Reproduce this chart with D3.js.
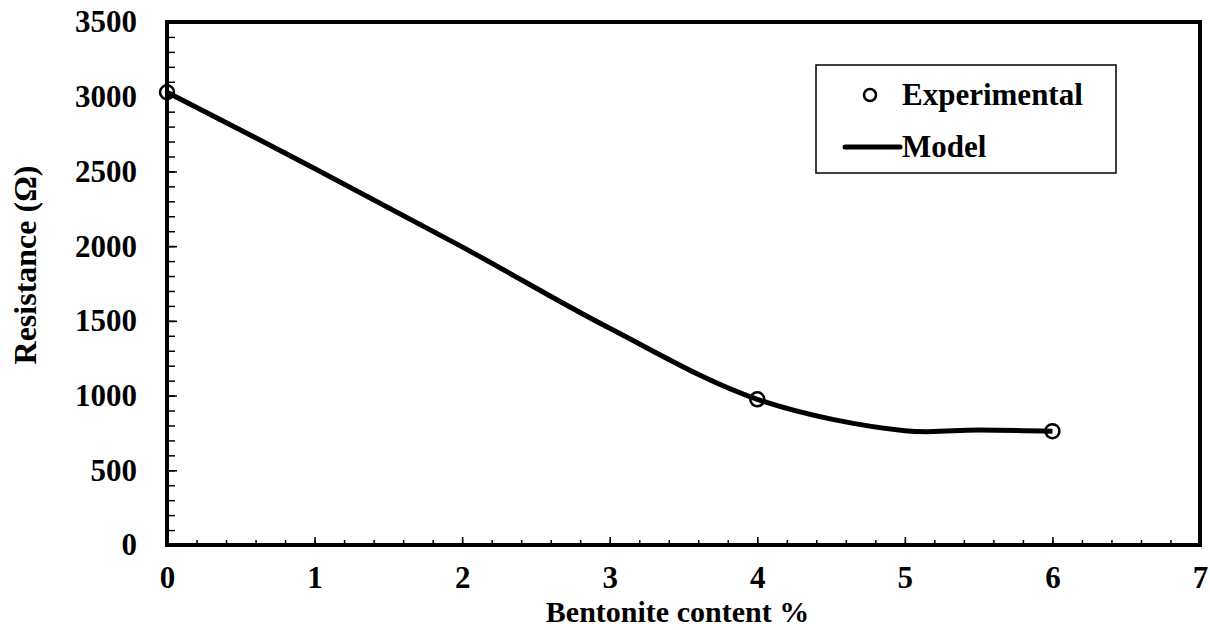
<!DOCTYPE html>
<html>
<head>
<meta charset="utf-8">
<script src="https://cdn.jsdelivr.net/npm/d3@7"></script>
<style>
  body { margin: 0; background: #fff; }
  svg text { font-family: "Liberation Serif", "DejaVu Serif", serif !important; font-weight: bold; fill: #000; }
</style>
</head>
<body>
<script>
// experimental points
var expX = [0, 4, 6];
var expY = [3030, 975, 762];
// model curve
var modelX = [0, 1, 2, 3, 4, 5, 5.5, 6];
var modelY = [3030, 2520, 1995, 1450, 975, 765, 770, 762];
var xTicks = [0, 1, 2, 3, 4, 5, 6, 7];
var yTicks = [0, 500, 1000, 1500, 2000, 2500, 3000, 3500];

var FONT = "'Liberation Serif', 'DejaVu Serif', serif";

var svg = d3.select("body").append("svg").attr("width", 1210).attr("height", 630),
    margin = {top: 22, right: 10, bottom: 85, left: 167},
    width = 1200 - margin.left,
    height = 545 - margin.top;

var x = d3.scaleLinear().domain([0, 7]).range([0, width]),
    y = d3.scaleLinear().domain([0, 3500]).range([height, 0]);

var g = svg.append("g")
    .attr("transform", "translate(" + margin.left + "," + margin.top + ")");

// minor ticks
g.append("g")
  .attr("transform", "translate(0," + height + ")")
  .call(d3.axisBottom(x).tickValues(d3.range(0, 7.01, 0.2)).tickSize(-5).tickFormat(""))
  .call(function(a) { a.select(".domain").remove(); a.selectAll("line").attr("stroke-width", 1.5); });
g.append("g")
  .call(d3.axisLeft(y).tickValues(d3.range(0, 3501, 100)).tickSize(-8).tickFormat(""))
  .call(function(a) { a.select(".domain").remove(); a.selectAll("line").attr("stroke-width", 1.5); });

// major ticks + labels
g.append("g")
  .attr("transform", "translate(0," + height + ")")
  .call(d3.axisBottom(x).tickValues(xTicks).tickSize(-8).tickPadding(21).tickFormat(d3.format("d")))
  .call(function(a) {
    a.select(".domain").remove();
    a.attr("font-family", FONT);
    a.selectAll("line").attr("stroke-width", 1.5);
    a.selectAll("text").attr("font-size", 31);
  });
g.append("g")
  .call(d3.axisLeft(y).tickValues(yTicks).tickSize(-10).tickPadding(30).tickFormat(d3.format("d")))
  .call(function(a) {
    a.select(".domain").remove();
    a.attr("font-family", FONT);
    a.selectAll("line").attr("stroke-width", 1.5);
    a.selectAll("text").attr("font-size", 31);
  });

// frame
g.append("rect")
  .attr("width", width).attr("height", height)
  .attr("fill", "none").attr("stroke", "#000").attr("stroke-width", 4);

// model line
var line = d3.line()
    .x(function(d, i) { return x(modelX[i]); })
    .y(function(d) { return y(d); })
    .curve(d3.curveCatmullRom.alpha(0.5));
g.append("path")
  .datum(modelY)
  .attr("fill", "none").attr("stroke", "#000").attr("stroke-width", 5)
  .attr("d", line);

// experimental points
g.selectAll(".pt")
  .data(expY)
  .enter().append("circle")
    .attr("class", "pt")
    .attr("cx", function(d, i) { return x(expX[i]); })
    .attr("cy", function(d) { return y(d); })
    .attr("r", 7)
    .attr("fill", "none").attr("stroke", "#000").attr("stroke-width", 2.5);

// axis titles
svg.append("text")
  .attr("font-family", FONT)
  .attr("x", margin.left + width / 2 - 6).attr("y", 622)
  .attr("text-anchor", "middle").attr("font-size", 30)
  .text("Bentonite content %");
svg.append("text")
  .attr("font-family", FONT)
  .attr("transform", "translate(36,265) rotate(-90)")
  .attr("text-anchor", "middle").attr("font-size", 32)
  .text("Resistance (Ω)");

// legend
var lg = svg.append("g").attr("transform", "translate(816,65)").attr("font-family", FONT);
lg.append("rect").attr("width", 300).attr("height", 108)
  .attr("fill", "#fff").attr("stroke", "#000").attr("stroke-width", 1.5);
lg.append("circle").attr("cx", 54).attr("cy", 30).attr("r", 6)
  .attr("fill", "none").attr("stroke", "#000").attr("stroke-width", 2.5);
lg.append("text").attr("x", 86).attr("y", 40).attr("font-size", 31).text("Experimental");
lg.append("line").attr("x1", 29).attr("x2", 84).attr("y1", 82).attr("y2", 82)
  .attr("stroke", "#000").attr("stroke-width", 5).attr("stroke-linecap", "round");
lg.append("text").attr("x", 86).attr("y", 92).attr("font-size", 31).text("Model");
</script>
</body>
</html>
